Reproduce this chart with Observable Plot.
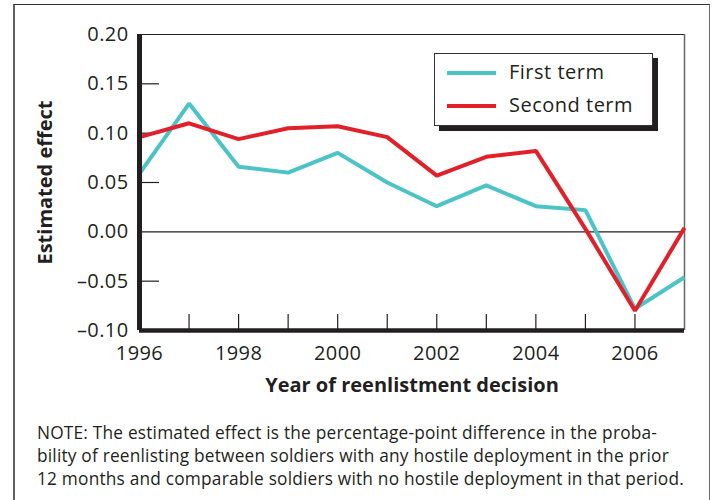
<!DOCTYPE html>
<html>
<head>
<meta charset="utf-8">
<script src="https://cdn.jsdelivr.net/npm/d3@7"></script>
<script src="https://cdn.jsdelivr.net/npm/@observablehq/plot@0.6"></script>
<style>
  html, body { margin: 0; padding: 0; background: #fff; }
  body { width: 716px; height: 500px; position: relative; overflow: hidden; font-family: "Open Sans", sans-serif; color: #231f20; }
  #frame { position: absolute; left: 13px; top: 4px; width: 697px; height: 520px;
    border-top: 1.5px solid #333; border-left: 2.5px solid #5f5f5f; border-right: 1.5px solid #6a6a6a; box-sizing: border-box; }
  #chart { position: absolute; left: 0; top: 0; }
  #chart svg text { letter-spacing: 0.4px; }
  #chart svg text.title { letter-spacing: 0; }
  #legend { position: absolute; left: 434px; top: 53px; width: 219px; height: 73px; box-sizing: border-box;
    border: 1px solid #333; background: #fff; box-shadow: 5px 5px 0 #231f20; }
  .row { position: absolute; left: 0; height: 30px; }
  .sw { position: absolute; left: 12px; width: 49px; height: 4px; }
  .lab { position: absolute; left: 74px; font-size: 20px; letter-spacing: 0.5px; white-space: nowrap; line-height: 1; }
  #note { position: absolute; left: 37px; top: 421px; font-size: 17.3px; letter-spacing: 0.2px; line-height: 23px; white-space: pre; color: #231f20; }
</style>
</head>
<body>
<div id="frame"></div>
<div id="chart"></div>
<div id="legend"></div>
<div id="note"></div>
<script>
const years = [1996, 1997, 1998, 1999, 2000, 2001, 2002, 2003, 2004, 2005, 2006, 2007];
const firstTerm = [0.059, 0.130, 0.066, 0.060, 0.080, 0.050, 0.026, 0.047, 0.026, 0.022, -0.078, -0.046];
const secondTerm = [0.096, 0.110, 0.094, 0.105, 0.107, 0.096, 0.057, 0.076, 0.082, 0.003, -0.080, 0.004];
const seriesNames = ["First term", "Second term"];
const seriesColors = ["#4cc3c7", "#e2202a"];
const yTickLabels = [-0.10, -0.05, 0.00, 0.05, 0.10, 0.15, 0.20];
const yInnerTicks = [-0.05, 0.05, 0.10, 0.15];
const xTickLabels = [1996, 1998, 2000, 2002, 2004, 2006];
const xInnerTicks = [1997, 1998, 1999, 2000, 2001, 2002, 2003, 2004, 2005, 2006];
const xTitle = "Year of reenlistment decision";
const yTitle = "Estimated effect";
const noteLines = [
  "NOTE: The estimated effect is the percentage-point difference in the proba-",
  "bility of reenlisting between soldiers with any hostile deployment in the prior",
  "12 months and comparable soldiers with no hostile deployment in that period."
];

const rows = [];
years.forEach((yr, i) => {
  rows.push({year: yr, value: firstTerm[i], series: seriesNames[0]});
});
years.forEach((yr, i) => {
  rows.push({year: yr, value: secondTerm[i], series: seriesNames[1]});
});

const fmt = d => (d < 0 ? "\u2013" : "") + Math.abs(d).toFixed(2);
const ink = "#231f20";

const chart = Plot.plot({
  width: 716,
  height: 400,
  marginLeft: 139,
  marginRight: 32,
  marginTop: 34,
  marginBottom: 70,
  style: {fontFamily: "Open Sans, sans-serif", fontSize: "20px", color: ink, background: "transparent"},
  x: {domain: [1996, 2007]},
  y: {domain: [-0.10, 0.20]},
  color: {domain: seriesNames, range: seriesColors},
  marks: [
    Plot.ruleY([0], {stroke: ink, strokeWidth: 1.2}),
    Plot.ruleY([0.20], {stroke: ink, strokeWidth: 1.2}),
    Plot.ruleX([2007], {stroke: "#666", strokeWidth: 1.5}),
    Plot.axisY({ticks: yInnerTicks, tickSize: 20, dx: 20, text: null, stroke: ink, strokeWidth: 1.2, label: null}),
    Plot.axisX({ticks: xInnerTicks, tickSize: 16, dy: -16, text: null, stroke: ink, strokeWidth: 1.2, label: null}),
    Plot.axisY({ticks: yTickLabels, tickSize: 0, tickPadding: 11, tickFormat: fmt, fontSize: 20, fill: ink, label: null}),
    Plot.axisX({ticks: xTickLabels, tickSize: 0, tickPadding: 15, tickFormat: d => String(d), fontSize: 20, fill: ink, label: null}),
    Plot.line(rows, {x: "year", y: "value", stroke: "series", strokeWidth: 4, strokeLinejoin: "miter", strokeLinecap: "butt", z: "series"}),
    Plot.ruleX([1996], {y1: -0.10, y2: 0.20, stroke: ink, strokeWidth: 5}),
    Plot.ruleY([-0.10], {x1: 1996, x2: 2007, stroke: ink, strokeWidth: 4.5}),
    Plot.text([xTitle], {frameAnchor: "bottom", textAnchor: "middle", lineAnchor: "middle", dy: 55, fontSize: 20, fontWeight: "bold", fill: ink, className: "title"}),
    Plot.text([yTitle], {frameAnchor: "left", textAnchor: "middle", lineAnchor: "middle", dx: -94, rotate: -90, fontSize: 20, fontWeight: "bold", fill: ink, className: "title"})
  ]
});
document.getElementById("chart").appendChild(chart);
chart.querySelectorAll("g.title text").forEach(t => t.setAttribute("class", "title"));

const legend = document.getElementById("legend");
seriesNames.forEach((name, i) => {
  const row = document.createElement("div");
  row.className = "row";
  row.style.top = (i === 0 ? 4 : 37) + "px";
  row.style.width = "100%";
  const sw = document.createElement("div");
  sw.className = "sw";
  sw.style.background = seriesColors[i];
  sw.style.top = "13px";
  const lab = document.createElement("div");
  lab.className = "lab";
  lab.style.top = "4px";
  lab.textContent = name;
  row.appendChild(sw);
  row.appendChild(lab);
  legend.appendChild(row);
});

document.getElementById("note").textContent = noteLines.join("\n");
</script>
</body>
</html>
